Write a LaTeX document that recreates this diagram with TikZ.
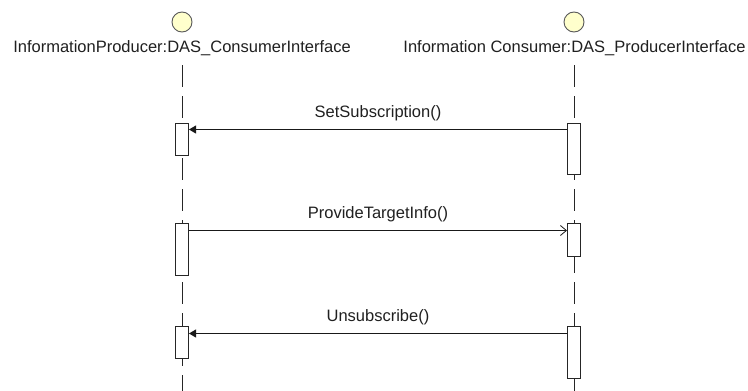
\documentclass[tikz,border=0pt]{standalone}
\usepackage{fontspec}
\setmainfont{Liberation Sans}
\usetikzlibrary{arrows.meta,calc}
\definecolor{headfill}{HTML}{FFFFCC}
\definecolor{txt}{HTML}{202020}
\begin{document}
\begin{tikzpicture}[x=1pt,y=-1pt,
  lbl/.style={font=\fontsize{16.5}{18}\selectfont, inner sep=0pt, text=txt},
  actbox/.style={draw=black!85, fill=white, minimum width=13pt, inner sep=0pt, line width=1pt},
  life/.style={draw=black!85, line width=1pt, dash pattern=on 22pt off 9pt},
  headc/.style={circle, draw=black!65, fill=headfill, minimum size=20pt, inner sep=0pt, line width=0.9pt},
  msg/.style={line width=1pt, draw=black!90},
  synch/.style={-{Triangle[length=7pt,width=8pt]}},
  asynch/.style={-{Straight Barb[length=6pt,width=10pt,line width=0.8pt]}}]
\fill[white] (0,0) rectangle (748,391);
\useasboundingbox (0,0) rectangle (748,391);
% heads
\node[headc] (c1) at (182,22) {};
\node[headc] (c2) at (574,22) {};
\node[lbl] (t1) at (182,48) {InformationProducer:DAS\_ConsumerInterface};
\node[lbl] (t2) at (574.5,48) {Information Consumer:DAS\_ProducerInterface};
% lifelines
\coordinate (s1) at (182,65);
\coordinate (e1) at (182,391);
\coordinate (s2) at (574,65);
\coordinate (e2) at (574,391);
\draw[life] (s1) -- (e1);
\draw[life] (s2) -- (e2);
% activation boxes
\node[actbox, minimum height=32pt] (lb1) at (182,139) {};
\node[actbox, minimum height=51pt] (rb1) at (574,148.5) {};
\node[actbox, minimum height=52pt] (lb2) at (182,249) {};
\node[actbox, minimum height=33pt] (rb2) at (574,239.5) {};
\node[actbox, minimum height=32pt] (lb3) at (182,342) {};
\node[actbox, minimum height=52pt] (rb3) at (574,352) {};
% messages
\draw[msg,synch] ($(rb1.north west)+(0,7)$) -- ($(lb1.north east)+(0,7)$);
\draw[msg,asynch] ($(lb2.north east)+(0,8)$) -- ($(rb2.north west)+(0,8)$);
\draw[msg,synch] ($(rb3.north west)+(0,8)$) -- ($(lb3.north east)+(0,8)$);
% labels
\node[lbl] (m1) at (378,113) {SetSubscription()};
\node[lbl] (m2) at (378,214) {ProvideTargetInfo()};
\node[lbl] (m3) at (378,317) {Unsubscribe()};
\end{tikzpicture}
\end{document}
